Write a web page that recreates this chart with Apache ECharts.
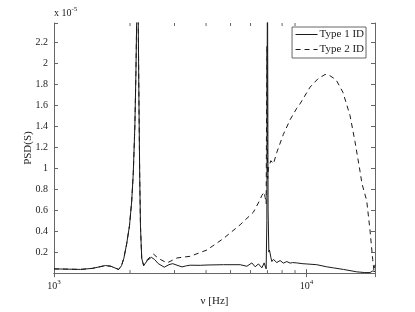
<!DOCTYPE html>
<html>
<head>
<meta charset="utf-8">
<script src="https://cdn.jsdelivr.net/npm/echarts@6/dist/echarts.min.js"></script>
<style>html,body{margin:0;padding:0;background:#fff}#c{width:415px;height:312px}</style>
</head>
<body>
<div id="c"></div>
<script>
// Frequencies in Hz, PSD values in units of 1e-5 S
const freqType1 = [1000,1110,1273,1419,1530,1598,1680,1760,1803,1850,1890,1940,1990,2030,2060,2090,2110,2125,2140,2155,2170,2185,2200,2225,2265,2342,2429,2500,2588,2734,2850,2949,3069,3212,3350,3463,3793,4032,4690,5458,5801,6071,6257,6449,6652,6792,6918,6962,7000,7040,7090,7129,7220,7286,7393,7508,7625,7737,7853,7980,8091,8222,8350,8472,8608,8800,9148,9600,10018,10972,12000,12762,14000,15792,17000,17825,18268,18659];
const psdType1 = [0.04,0.038,0.035,0.045,0.062,0.072,0.065,0.045,0.035,0.07,0.14,0.28,0.45,0.68,0.95,1.4,1.9,2.4,3.0,2.4,1.6,0.9,0.44,0.14,0.072,0.12,0.15,0.13,0.09,0.056,0.08,0.09,0.075,0.059,0.07,0.075,0.074,0.077,0.08,0.08,0.065,0.097,0.06,0.087,0.05,0.097,0.04,0.5,3.0,0.6,0.2,0.22,0.15,0.11,0.13,0.14,0.10,0.105,0.12,0.12,0.095,0.10,0.11,0.11,0.095,0.10,0.097,0.09,0.087,0.08,0.06,0.05,0.035,0.012,0.005,0.005,0.02,0.015];
const freqType2 = [1000,1110,1273,1419,1530,1598,1680,1760,1803,1850,1890,1940,1990,2030,2060,2090,2110,2125,2140,2155,2170,2185,2200,2225,2265,2342,2480,2588,2802,3069,3463,4032,4690,5458,6161,6547,6652,6792,6855,6918,6962,7010,7063,7220,7393,7625,8091,8608,9148,9419,10323,11105,11834,12162,13083,13932,14859,15550,16275,16574,17298,17825,18268,18488,18659];
const psdType2 = [0.04,0.038,0.035,0.045,0.062,0.072,0.065,0.045,0.035,0.07,0.14,0.28,0.45,0.68,0.95,1.4,1.9,2.4,3.0,2.4,1.6,0.9,0.44,0.14,0.072,0.13,0.18,0.14,0.097,0.144,0.16,0.22,0.33,0.46,0.58,0.7,0.74,0.77,0.72,0.66,2.16,0.9,1.0,1.07,1.04,1.15,1.32,1.46,1.57,1.61,1.77,1.85,1.89,1.89,1.84,1.72,1.5,1.25,0.97,0.85,0.69,0.41,0.13,0.02,0.08];
const minorTicks = [2000,3000,4000,5000,6000,7000,8000,9000];
const xMin = 1000, xMax = 18659, yMin = 0, yMax = 2.38, yStep = 0.2;

const FONT = 'Liberation Serif';
const axisCol = '#666';
const lineCol = '#1a1a1a';
const zip = (a, b) => a.map((v, i) => [v, b[i]]);

const chart = echarts.init(document.getElementById('c'), null, {renderer: 'canvas'});
const supRich = {
  b: {fontFamily: FONT, fontSize: 10, color: '#222'},
  s: {fontFamily: FONT, fontSize: 7, color: '#222', padding: [0, 0, 7, 0]}
};
chart.setOption({
  backgroundColor: '#fff',
  animation: false,
  grid: {left: 54, top: 23, right: 40, bottom: 35},
  legend: {
    right: 49, top: 27, orient: 'vertical',
    backgroundColor: '#fff', borderColor: axisCol, borderWidth: 1,
    padding: [2, 2, 3, 3], itemGap: 4, itemWidth: 22, itemHeight: 10,
    itemStyle: {opacity: 0},
    lineStyle: {width: 1},
    textStyle: {fontFamily: FONT, fontSize: 11, color: '#222', padding: [0,0,0,-3]},
    data: ['Type 1 ID', 'Type 2 ID']
  },
  xAxis: [{
    type: 'log', logBase: 10, min: xMin, max: xMax,
    name: 'ν [Hz]', nameLocation: 'middle', nameGap: 17,
    nameTextStyle: {fontFamily: FONT, fontSize: 11, color: '#222'},
    axisLine: {lineStyle: {color: axisCol, width: 1}},
    axisTick: {inside: true, length: 4, lineStyle: {color: axisCol}},
    splitLine: {show: false},
    axisLabel: {
      margin: 6, rich: supRich,
      formatter: v => {
        const e = Math.round(Math.log10(v));
        if (Math.abs(v - Math.pow(10, e)) > 1e-6 * v) return '';
        return '{b|10}{s|' + e + '}';
      }
    }
  }, {
    type: 'log', logBase: 10, min: xMin, max: xMax, position: 'top',
    axisLine: {lineStyle: {color: axisCol, width: 1}},
    axisTick: {inside: true, length: 4, lineStyle: {color: axisCol}},
    axisLabel: {show: false}, splitLine: {show: false}
  }],
  yAxis: [{
    type: 'value', min: yMin, max: yMax, interval: yStep,
    name: 'x 10{s|-5}', nameLocation: 'end', nameGap: 3,
    nameTextStyle: {fontFamily: FONT, fontSize: 10, color: '#222', align: 'left', rich: supRich},
    axisLine: {show: true, lineStyle: {color: axisCol, width: 1}},
    axisTick: {inside: true, length: 4, lineStyle: {color: axisCol}},
    splitLine: {show: false},
    axisLabel: {
      fontFamily: FONT, fontSize: 10, color: '#222', margin: 6,
      formatter: v => {
        const k = Math.round(v / yStep);
        if (v === 0 || Math.abs(v - k * yStep) > 1e-6) return '';
        return String(+(k * yStep).toFixed(1));
      }
    }
  }, {
    type: 'value', min: yMin, max: yMax, interval: yStep, position: 'right',
    axisLine: {show: true, lineStyle: {color: axisCol, width: 1}},
    axisTick: {inside: true, length: 4, lineStyle: {color: axisCol}},
    axisLabel: {show: false}, splitLine: {show: false}
  }, {
    type: 'value', min: yMin, max: yMax, position: 'left',
    name: 'PSD(S)', nameLocation: 'middle', nameGap: 20, nameRotate: 90,
    nameTextStyle: {fontFamily: FONT, fontSize: 11, color: '#222'},
    axisLine: {show: false}, axisTick: {show: false}, axisLabel: {show: false}, splitLine: {show: false}
  }],
  series: [{
    name: 'Type 1 ID', type: 'line', data: zip(freqType1, psdType1),
    symbol: 'none', showSymbol: false, clip: true, smooth: false,
    lineStyle: {color: lineCol, width: 1, type: 'solid'},
    itemStyle: {color: lineCol}
  }, {
    name: 'Type 2 ID', type: 'line', data: zip(freqType2, psdType2),
    symbol: 'none', showSymbol: false, clip: true, smooth: false,
    lineStyle: {color: lineCol, width: 1, type: [5, 4]},
    itemStyle: {color: lineCol}
  }, {
    type: 'custom', silent: true, clip: false,
    data: minorTicks.map(f => [f, yMin]),
    renderItem: (params, api) => {
      const f = api.value(0);
      const b = api.coord([f, yMin]);
      const t = api.coord([f, yMax]);
      const st = {stroke: axisCol, lineWidth: 1};
      return {type: 'group', children: [
        {type: 'line', shape: {x1: b[0], y1: b[1], x2: b[0], y2: b[1] - 3}, style: st},
        {type: 'line', shape: {x1: t[0], y1: t[1], x2: t[0], y2: t[1] + 3}, style: st}
      ]};
    }
  }]
});
</script>
</body>
</html>
